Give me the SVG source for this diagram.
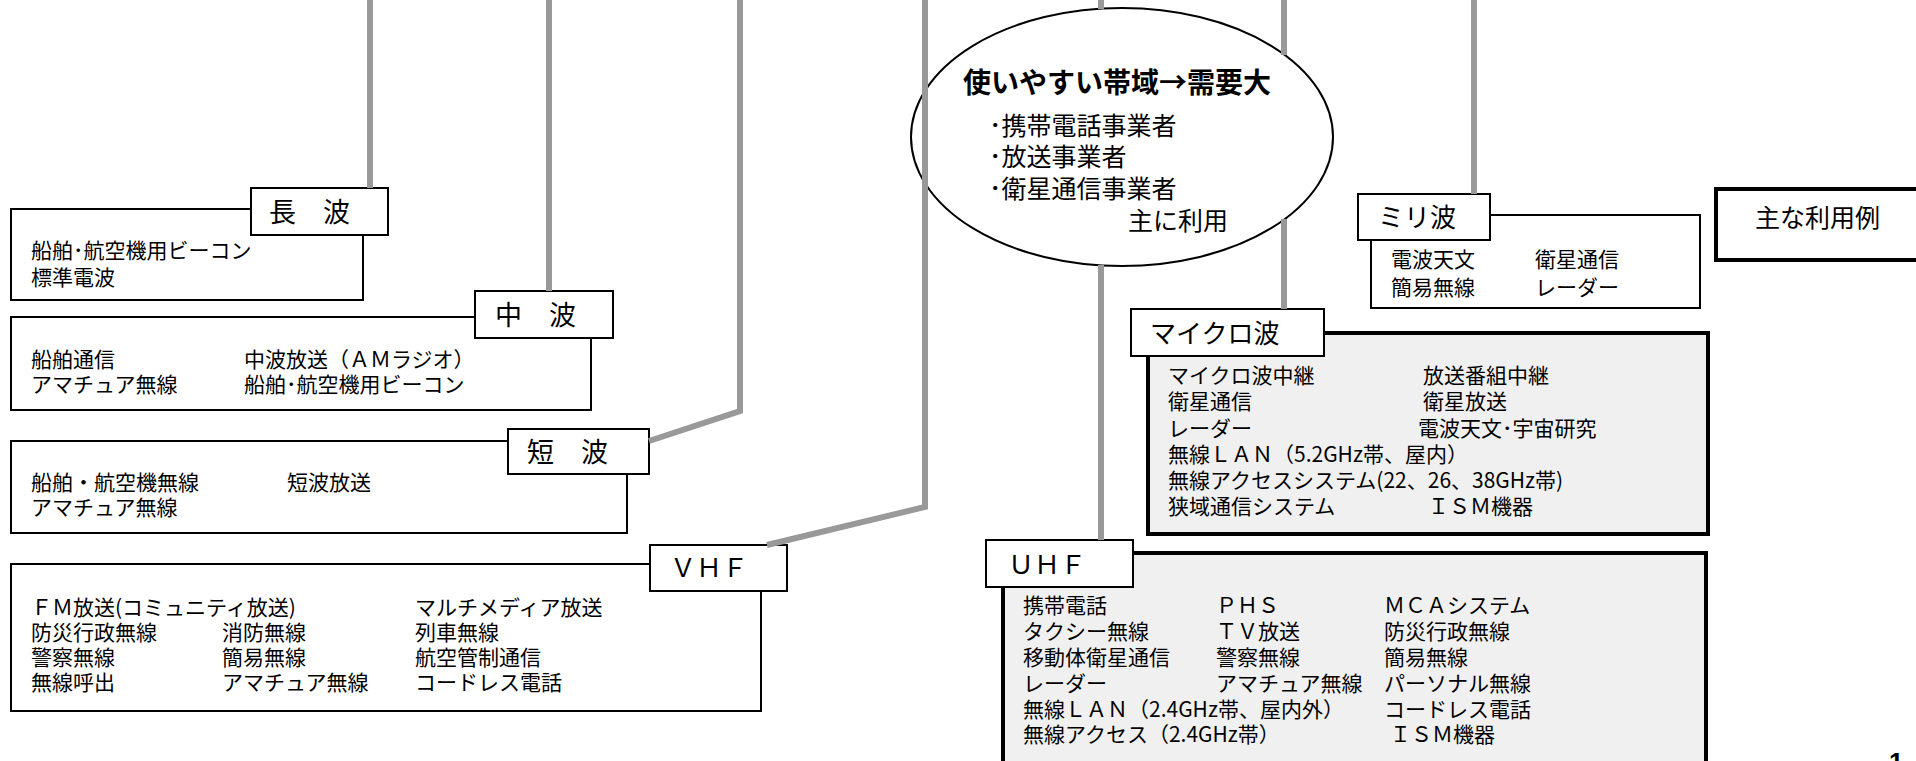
<svg xmlns="http://www.w3.org/2000/svg" width="1916" height="761" viewBox="0 0 1916 761">
<style>
text{font-family:"Noto Sans CJK JP","Noto Sans",sans-serif;fill:#000}
.t{font-size:21px}
.lb{font-size:27px}
.lb2{font-size:26px}
.b{font-size:25px}
.ttl{font-size:28px;font-weight:bold}
.box{fill:#fff;stroke:#000;stroke-width:2}
.tbox{fill:#f0f0f0;stroke:#000;stroke-width:4}
.wbox{fill:#fff;stroke:#000;stroke-width:4}
.conn{fill:none;stroke:#999;stroke-width:6;stroke-linejoin:miter}
</style>
<rect width="1916" height="761" fill="#fff"/>

<g id="node-choha">
<rect class="box" x="11" y="209" width="352" height="91"/>
<rect class="box" x="251" y="188" width="137" height="47"/>
<text class="lb" x="269" y="222">長　波</text>
<text class="t" x="31" y="258">船舶･航空機用ビーコン</text>
<text class="t" x="31" y="285">標準電波</text>
</g>

<g id="node-chuha">
<rect class="box" x="11" y="317" width="580" height="93"/>
<rect class="box" x="475" y="291" width="138" height="47"/>
<text class="lb" x="495" y="325">中　波</text>
<text class="t" x="31" y="367">船舶通信</text>
<text class="t" x="31" y="392">アマチュア無線</text>
<text class="t" x="244" y="367">中波放送（ＡＭラジオ）</text>
<text class="t" x="244" y="392">船舶･航空機用ビーコン</text>
</g>

<g id="node-tanpa">
<rect class="box" x="11" y="441" width="616" height="92"/>
<rect class="box" x="508" y="429" width="141" height="45"/>
<text class="lb" x="527" y="462">短　波</text>
<text class="t" x="31" y="490">船舶・航空機無線</text>
<text class="t" x="31" y="515">アマチュア無線</text>
<text class="t" x="287" y="490">短波放送</text>
</g>

<g id="node-vhf">
<rect class="box" x="11" y="564" width="750" height="147"/>
<rect class="box" x="650" y="545" width="137" height="46"/>
<text class="lb2" x="670" y="577">ＶＨＦ</text>
<text class="t" x="31" y="615">ＦＭ放送(コミュニティ放送)</text>
<text class="t" x="415" y="615">マルチメディア放送</text>
<text class="t" x="31" y="640">防災行政無線</text>
<text class="t" x="222" y="640">消防無線</text>
<text class="t" x="415" y="640">列車無線</text>
<text class="t" x="31" y="665">警察無線</text>
<text class="t" x="222" y="665">簡易無線</text>
<text class="t" x="415" y="665">航空管制通信</text>
<text class="t" x="31" y="690">無線呼出</text>
<text class="t" x="222" y="690">アマチュア無線</text>
<text class="t" x="415" y="690">コードレス電話</text>
</g>

<g id="node-demand">
<ellipse cx="1122" cy="137" rx="211" ry="129" fill="#fff" stroke="#000" stroke-width="2"/>
<text class="ttl" x="963" y="93">使いやすい帯域→需要大</text>
<text class="b" x="989" y="135">･携帯電話事業者</text>
<text class="b" x="989" y="166">･放送事業者</text>
<text class="b" x="989" y="198">･衛星通信事業者</text>
<text class="b" x="1128" y="230">主に利用</text>
</g>

<g id="node-miri">
<rect class="box" x="1371" y="215" width="329" height="93"/>
<rect class="box" x="1358" y="194" width="132" height="46"/>
<text class="lb2" x="1378" y="227">ミリ波</text>
<text class="t" x="1391" y="267">電波天文</text>
<text class="t" x="1535" y="267">衛星通信</text>
<text class="t" x="1391" y="295">簡易無線</text>
<text class="t" x="1535" y="295">レーダー</text>
</g>

<g id="node-legend">
<rect class="wbox" x="1716" y="189" width="230" height="71"/>
<text class="b" x="1755" y="227">主な利用例</text>
</g>

<g id="node-micro">
<rect class="tbox" x="1148" y="333" width="560" height="201"/>
<rect class="box" x="1131" y="309" width="193" height="47"/>
<text class="lb2" x="1150" y="343">マイクロ波</text>
<text class="t" x="1168" y="383">マイクロ波中継</text>
<text class="t" x="1423" y="383">放送番組中継</text>
<text class="t" x="1168" y="409">衛星通信</text>
<text class="t" x="1423" y="409">衛星放送</text>
<text class="t" x="1168" y="436">レーダー</text>
<text class="t" x="1418" y="436">電波天文･宇宙研究</text>
<text class="t" x="1168" y="462">無線ＬＡＮ（5.2GHz帯、屋内）</text>
<text class="t" x="1168" y="488">無線アクセスシステム(22、26、38GHz帯)</text>
<text class="t" x="1168" y="514">狭域通信システム</text>
<text class="t" x="1428" y="514">ＩＳＭ機器</text>
</g>

<g id="node-uhf">
<rect class="tbox" x="1003" y="553" width="703" height="260"/>
<rect class="box" x="986" y="540" width="147" height="47"/>
<text class="lb2" x="1008" y="574">ＵＨＦ</text>
<text class="t" x="1023" y="613">携帯電話</text>
<text class="t" x="1216" y="613">ＰＨＳ</text>
<text class="t" x="1384" y="613">ＭＣＡシステム</text>
<text class="t" x="1023" y="639">タクシー無線</text>
<text class="t" x="1216" y="639">ＴＶ放送</text>
<text class="t" x="1384" y="639">防災行政無線</text>
<text class="t" x="1023" y="665">移動体衛星通信</text>
<text class="t" x="1216" y="665">警察無線</text>
<text class="t" x="1384" y="665">簡易無線</text>
<text class="t" x="1023" y="691">レーダー</text>
<text class="t" x="1216" y="691">アマチュア無線</text>
<text class="t" x="1384" y="691">パーソナル無線</text>
<text class="t" x="1023" y="717">無線ＬＡＮ（2.4GHz帯、屋内外）</text>
<text class="t" x="1384" y="717">コードレス電話</text>
<text class="t" x="1023" y="742">無線アクセス（2.4GHz帯）</text>
<text class="t" x="1390" y="742">ＩＳＭ機器</text>
</g>

<g id="page-number">
<text x="1889" y="771" style="font-family:'Liberation Sans',Arial,sans-serif;font-size:26px;font-weight:bold">1</text>
</g>

<g id="connectors">
<path class="conn" d="M370,0 V188"/>
<path class="conn" d="M549,0 V291"/>
<path class="conn" d="M740,0 V411 L649,441"/>
<path class="conn" d="M925,0 V507 L767,545"/>
<path class="conn" d="M1101,0 V9 M1101,265 V540"/>
<path class="conn" d="M1284,0 V55 M1284,219 V309"/>
<path class="conn" d="M1474,0 V194"/>
</g>
</svg>
